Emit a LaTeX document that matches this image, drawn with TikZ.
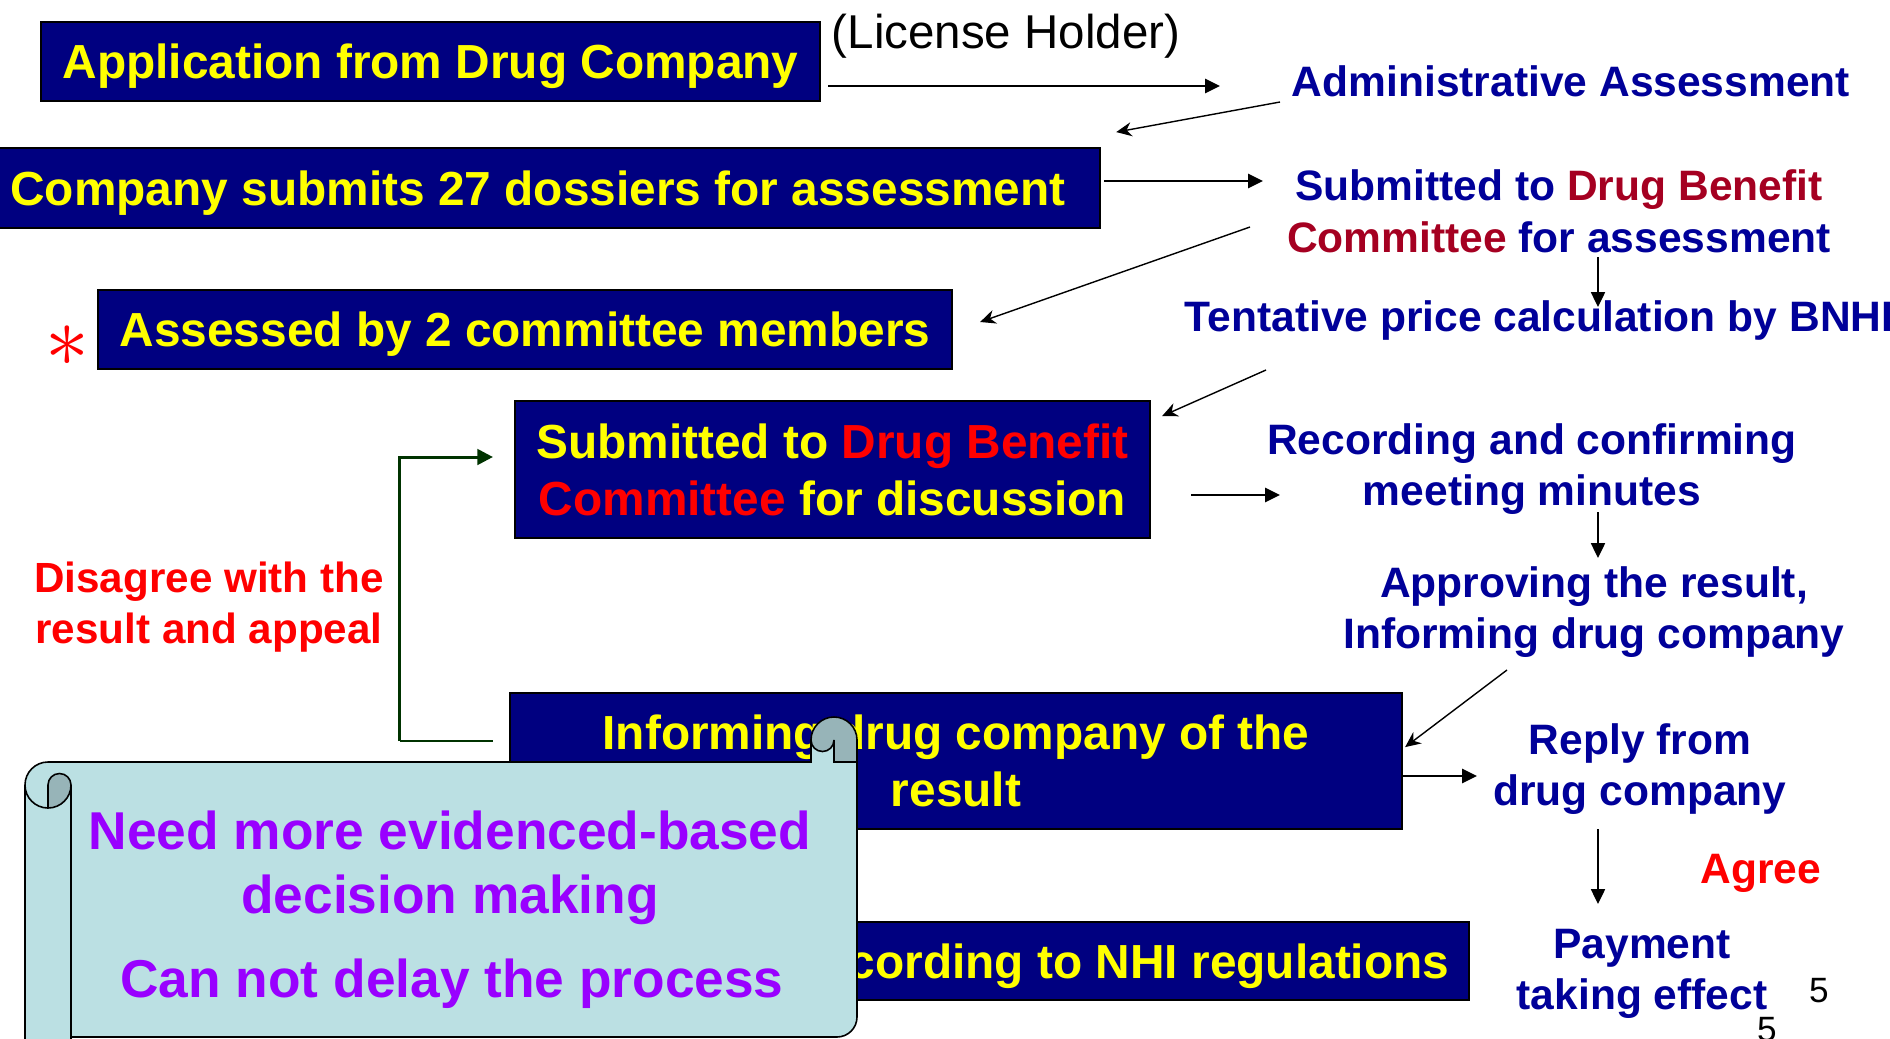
\documentclass[tikz,border=0pt]{standalone}
\usepackage{fontspec}
\setmainfont{Liberation Sans}
\usetikzlibrary{arrows.meta}

\definecolor{boxnavy}{RGB}{0,0,128}
\definecolor{boxyellow}{RGB}{255,255,0}
\definecolor{sideblue}{RGB}{0,0,153}
\definecolor{dbcred}{RGB}{165,0,33}
\definecolor{purp}{RGB}{153,0,255}
\definecolor{scrollfill}{RGB}{187,224,227}
\definecolor{scrollgray}{RGB}{151,180,184}
\definecolor{appealgreen}{RGB}{0,51,0}

\tikzstyle{bS}=[draw=black,line width=0.5pt,fill=boxnavy,text=boxyellow,inner sep=0pt,font=\fontsize{13.6}{16.2}\selectfont\bfseries,align=center]
\tikzstyle{tS}=[inner sep=0pt,text=sideblue,font=\fontsize{12.1}{14.7}\selectfont\bfseries,align=center]
\tikzstyle{sS}=[inner sep=0pt,text=purp,font=\fontsize{15.15}{18.1}\selectfont\bfseries,align=center]
\tikzstyle{aS}=[line width=0.55pt,-{Triangle[length=4.2pt,width=4pt]}]
\tikzstyle{dS}=[line width=0.4pt,-{Stealth[length=4.4pt,width=4pt]}]

\begin{document}
\begin{tikzpicture}[x=0.01cm,y=-0.01cm]%[1 unit = 1 px of the slide]
                \useasboundingbox (0,0) rectangle (1890,1039);
                \clip (0,0) rectangle (1890,1039);
                % left column of boxes
                \draw (430.5,61.5) node[bS,text depth=0pt,minimum width=7.79cm,minimum height=0.79cm] (app) {Application from Drug Company};
                \draw (538,188) node[bS,text depth=0pt,minimum width=11.24cm,minimum height=0.8cm] (comp) {Company submits 27 dossiers for assessment};
                \draw (525,329.5) node[bS,text depth=0pt,minimum width=8.54cm,minimum height=0.79cm] (ass) {Assessed by 2 committee members};
                \draw (832.5,469.5) node[bS,minimum width=6.35cm,minimum height=1.37cm] (dbc) {Submitted to \textcolor{red}{Drug Benefit}\\\textcolor{red}{Committee} for discussion};
                \draw (1149,961) node[bS,text depth=0pt,minimum width=6.4cm,minimum height=0.78cm] (nhi) {cording to NHI regulations};
                \draw (956,761) node[bS,minimum width=8.92cm,minimum height=1.36cm] (inf) {Informing drug company of the\\result};
                % right column texts
                \draw (1006,36) node[inner sep=0pt,font=\fontsize{13.5}{16}\selectfont] (lic) {(License Holder)};
                \draw (1571,81) node[tS] (adm) {Administrative Assessment};
                \draw (1559,211.5) node[tS] (sub) {Submitted to \textcolor{dbcred}{Drug Benefit}\\\textcolor{dbcred}{Committee} for assessment};
                \draw (1184,320) node[tS,anchor=west] (tent) {Tentative price calculation by BNHI};
                \draw (1532,469) node[tS] (rec) {Recording and confirming\\meeting minutes};
                \draw (1594,612) node[tS] (apr) {Approving the result,\\Informing drug company};
                \draw (1640,769) node[tS] (rep) {Reply from\\drug company};
                \draw (1761,873) node[tS,text=red] (agr) {Agree};
                \draw (1642,974) node[tS] (pay) {Payment\\taking effect};
                \draw (1819,991) node[inner sep=0pt,font=\fontsize{10}{12}\selectfont] (pg) {5};
                \draw (1767,1030) node[inner sep=0pt,font=\fontsize{10}{12}\selectfont] (pgb) {5};
                \draw (209,607) node[tS,text=red,font=\fontsize{12}{14.7}\selectfont\bfseries] (dis) {Disagree with the\\result and appeal};
                \draw (67,346) node[inner sep=0pt,text=red,font=\fontsize{30}{30}\selectfont] (star) {$\ast$};
                \path
                    ([shift={(7,24.5)}]app.east) edge[aS] ([shift={(-351,5)}]adm.center)
                    ([shift={(-291,21)}]adm.center) edge[dS] ([shift={(15,-15)}]comp.north east)
                    ([shift={(3,-7)}]comp.east) edge[aS] ([shift={(-296,-30.5)}]sub.center)
                    ([shift={(39,45.5)}]sub.center) edge[aS,line width=0.4pt] ([shift={(414,-13)}]tent.west)
                    ([shift={(-309,15.5)}]sub.center) edge[dS] ([shift={(27,-7.5)}]ass.east)
                    ([shift={(82,50)}]tent.west) edge[dS] ([shift={(11,16)}]dbc.north east)
                    ([shift={(40,25.5)}]dbc.east) edge[aS] ([shift={(-252,26)}]rec.center)
                    ([shift={(66,43)}]rec.center) edge[aS,line width=0.4pt] ([shift={(4,-54)}]apr.center)
                    ([shift={(-87,58)}]apr.center) edge[dS] ([shift={(2,55)}]inf.north east)
                    ([shift={(0,15)}]inf.east) edge[aS] ([shift={(-163,7)}]rep.center)
                    ([shift={(-42,60)}]rep.center) edge[aS,line width=0.4pt] ([shift={(-44,-70)}]pay.center)
                ;
                % appeal loop
                \draw[appealgreen,line width=0.45pt] ([shift={(-16,-20)}]inf.west) -- ++(-93,0);
                \draw[appealgreen,line width=0.85pt,-{Triangle[length=4.4pt,width=4.4pt]}] ([shift={(-109,-20)}]inf.west) |- ([shift={(-21,-12.5)}]dbc.west);
                % scroll
                \filldraw[fill=scrollfill,draw=black,line width=0.45pt] (25,1060) -- (25,785) arc[start angle=180,end angle=270,radius=23] -- (811,762) -- (811,740) -- (857,740) -- (857,1017) arc[start angle=0,end angle=90,radius=20] -- (71,1037) -- (71,1060) -- cycle;
                \draw[line width=0.45pt] (71,785) -- (71,1060);
                \draw[line width=0.45pt] (25,785) arc[start angle=180,end angle=90,radius=23];
                \filldraw[fill=scrollgray,draw=black,line width=0.45pt] (48,808) -- (48,785) arc[start angle=180,end angle=360,radius=11.5] arc[start angle=0,end angle=90,radius=23] -- cycle;
                \filldraw[fill=scrollgray,draw=black,line width=0.45pt] (811,740) arc[start angle=180,end angle=360,radius=23] -- (857,762) -- (834,762) -- (834,740) arc[start angle=0,end angle=180,radius=11.5] -- cycle;
                \draw (450,868) node[sS] (need) {Need more evidenced-based\\decision making};
                \draw (452,984) node[sS] (delay) {Can not delay the process};
        \end{tikzpicture}
\end{document}
